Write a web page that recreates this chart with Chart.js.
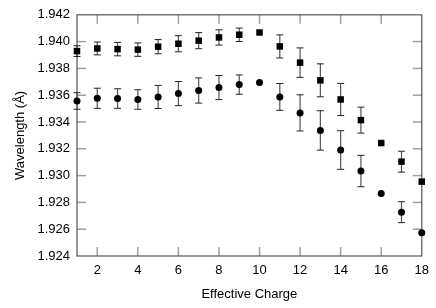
<!DOCTYPE html>
<html><head><meta charset="utf-8">
<script src="https://cdn.jsdelivr.net/npm/chart.js@4"></script>
<style>html,body{margin:0;padding:0;background:#fff}</style>
</head><body>
<canvas id="c" width="436" height="308"></canvas>
<script>
const charges = [1,2,3,4,5,6,7,8,9,10,11,12,13,14,15,16,17,18];
const squareValues = [1.93929,1.93949,1.93944,1.93940,1.93962,1.93984,1.94007,1.94031,1.94051,1.94068,1.93964,1.93843,1.93711,1.93568,1.93414,1.93243,1.93104,1.92955];
const squareErrors = [0.00040,0.00048,0.00050,0.00050,0.00053,0.00060,0.00060,0.00057,0.00050,0,0.00086,0.00110,0.00123,0.00120,0.00097,0,0.00078,0];
const circleValues = [1.93557,1.93577,1.93575,1.93568,1.93587,1.93612,1.93635,1.93657,1.93679,1.93694,1.93587,1.93468,1.93337,1.93191,1.93034,1.92866,1.92727,1.92573];
const circleErrors = [0.00062,0.00075,0.00073,0.00073,0.00086,0.00090,0.00094,0.00090,0.00072,0,0.00100,0.00135,0.00147,0.00144,0.00117,0,0.00078,0];
const xTickValues = [2,4,6,8,10,12,14,16,18];
const yTickValues = [1.924,1.926,1.928,1.930,1.932,1.934,1.936,1.938,1.940,1.942];

const FONT = "'Liberation Sans', Arial, Helvetica, sans-serif";

const decor = {
  id: 'decor',
  beforeDatasetsDraw(chart) {
    const {ctx, chartArea: a, scales: {x, y}} = chart;
    ctx.save();
    const line = (x1, y1, x2, y2) => { ctx.beginPath(); ctx.moveTo(x1, y1); ctx.lineTo(x2, y2); ctx.stroke(); };
    // inward tick marks, mirrored on all sides
    ctx.strokeStyle = '#a0a0a0';
    ctx.lineWidth = 1.5;
    xTickValues.forEach(v => {
      const px = x.getPixelForValue(v);
      if (px > a.left + 2 && px < a.right - 2) {
        line(px, a.bottom, px, a.bottom - 9);
        line(px, a.top, px, a.top + 9);
      }
    });
    yTickValues.forEach(v => {
      const py = y.getPixelForValue(v);
      if (py > a.top + 2 && py < a.bottom - 2) {
        line(a.left, py, a.left + 9, py);
        line(a.right, py, a.right - 9, py);
      }
    });
    // frame
    ctx.strokeStyle = '#555';
    ctx.lineWidth = 1.2;
    ctx.strokeRect(a.left, a.top, a.right - a.left, a.bottom - a.top);
    // error bars
    const drawErr = (vals, errs) => {
      charges.forEach((c, i) => {
        const e = errs[i];
        if (!e) return;
        const px = x.getPixelForValue(c);
        const yTop = y.getPixelForValue(vals[i] + e);
        const yBot = y.getPixelForValue(vals[i] - e);
        ctx.strokeStyle = '#555';
        ctx.lineWidth = 1.2;
        line(px, yTop, px, yBot);
        ctx.strokeStyle = '#222';
        ctx.lineWidth = 1;
        line(px - 3.5, yTop, px + 3.5, yTop);
        line(px - 3.5, yBot, px + 3.5, yBot);
      });
    };
    drawErr(squareValues, squareErrors);
    drawErr(circleValues, circleErrors);
    ctx.restore();
  }
};

new Chart(document.getElementById('c'), {
  type: 'scatter',
  data: {
    datasets: [
      {
        label: 'squares',
        data: charges.map((c, i) => ({x: c, y: squareValues[i]})),
        pointStyle: 'rect',
        pointRadius: 4.6,
        pointHoverRadius: 4.6,
        backgroundColor: '#000',
        borderColor: '#000',
        borderWidth: 0,
        clip: false
      },
      {
        label: 'circles',
        data: charges.map((c, i) => ({x: c, y: circleValues[i]})),
        pointStyle: 'circle',
        pointRadius: 3.5,
        pointHoverRadius: 3.5,
        backgroundColor: '#000',
        borderColor: '#000',
        borderWidth: 0,
        clip: false
      }
    ]
  },
  options: {
    responsive: false,
    animation: false,
    events: [],
    layout: {padding: {left: 0, right: 14, top: 14, bottom: 0}},
    plugins: {legend: {display: false}, tooltip: {enabled: false}},
    scales: {
      x: {
        type: 'linear',
        min: 1, max: 18,
        border: {display: false},
        grid: {display: false, drawTicks: false},
        afterBuildTicks: s => { s.ticks = xTickValues.map(v => ({value: v})); },
        afterFit: s => { s.height = 52; },
        ticks: {
          padding: 7,
          color: '#000',
          font: {family: FONT, size: 13},
          maxRotation: 0,
          callback: v => String(v)
        },
        title: {
          display: true,
          text: 'Effective Charge',
          color: '#000',
          font: {family: FONT, size: 13},
          padding: {top: 0, bottom: 6}
        }
      },
      y: {
        type: 'linear',
        min: 1.924, max: 1.942,
        border: {display: false},
        grid: {display: false, drawTicks: false},
        afterBuildTicks: s => { s.ticks = yTickValues.map(v => ({value: v})); },
        afterFit: s => { s.width = 77; },
        ticks: {
          padding: 7,
          color: '#000',
          font: {family: FONT, size: 13},
          callback: v => Number(v).toFixed(3)
        },
        title: {
          display: true,
          text: 'Wavelength (Å)',
          color: '#000',
          font: {family: FONT, size: 13},
          padding: {top: 13, bottom: 0}
        }
      }
    }
  },
  plugins: [decor]
});
</script>
</body></html>
